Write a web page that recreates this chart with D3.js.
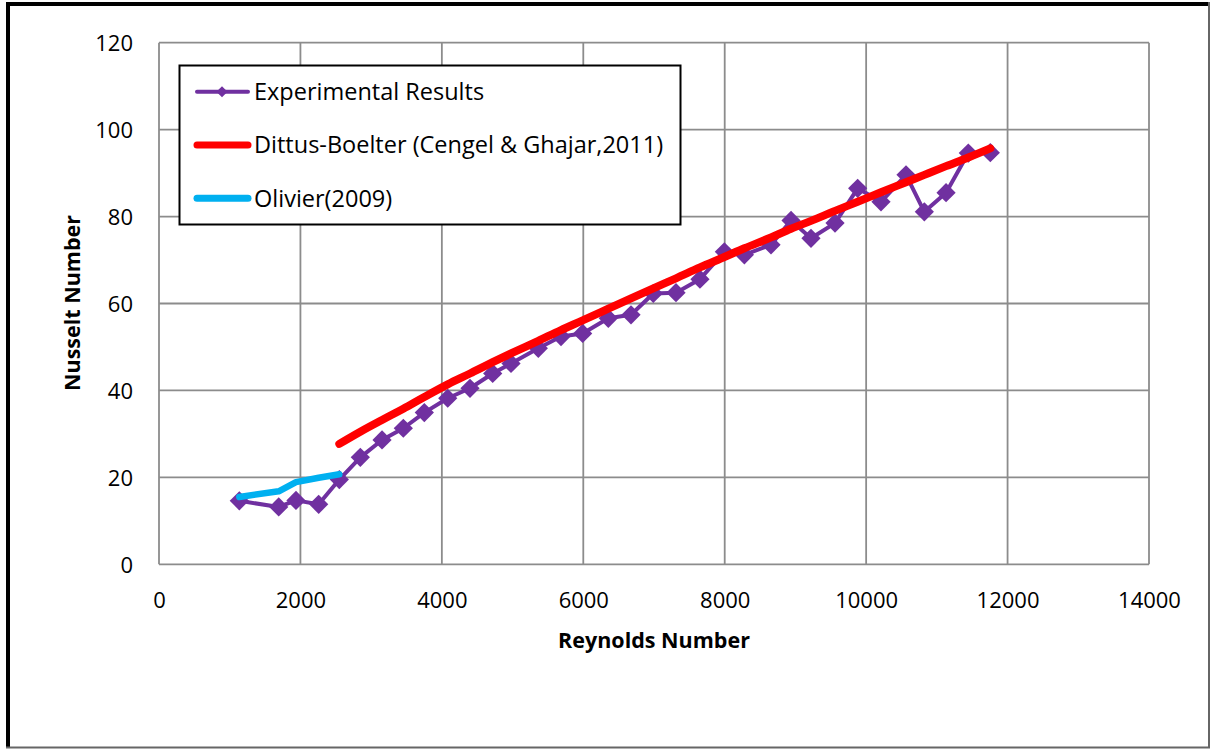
<!DOCTYPE html>
<html>
<head>
<meta charset="utf-8">
<script src="https://cdn.jsdelivr.net/npm/d3@7"></script>
<style>
  html, body { margin: 0; padding: 0; background: #fff; }
  svg { display: block; font-family: "Open Sans", Lato, sans-serif; }
</style>
</head>
<body>
<svg id="chart" width="1211" height="749"></svg>
<script>
// Reynolds numbers of the measured points
const reynolds = [1136, 1693, 1937, 2258, 2550, 2847, 3154, 3455, 3752, 4083,
                  4398, 4719, 4978, 5364, 5685, 5991, 6354, 6675, 6990, 7311,
                  7650, 7995, 8278, 8655, 8938, 9220, 9560, 9880, 10210, 10564,
                  10823, 11130, 11445, 11756];
// Measured Nusselt numbers
const nuExperimental = [14.6, 13.2, 14.7, 13.8, 19.5, 24.6, 28.6, 31.3, 34.9, 38.2,
                        40.5, 43.9, 46.2, 49.7, 52.4, 53.1, 56.6, 57.4, 62.3, 62.5,
                        65.6, 71.9, 71.2, 73.5, 79.1, 75.0, 78.5, 86.5, 83.4, 89.6,
                        81.1, 85.5, 94.6, 94.7];
// Dittus-Boelter correlation, turbulent range only (from the 5th point on)
const reynoldsDittus = reynolds.slice(4);
const nuDittus = [27.7, 30.5, 33.2, 35.8, 38.5, 41.4, 43.9, 46.5, 48.5, 51.4,
                  53.9, 56.1, 58.8, 61.2, 63.5, 65.8, 68.3, 70.7, 72.7, 75.2,
                  77.2, 79.0, 81.3, 83.4, 85.6, 87.9, 89.6, 91.6, 93.6, 95.7];
// Olivier (2009), transitional range (first five points)
const reynoldsOlivier = reynolds.slice(0, 5);
const nuOlivier = [15.5, 16.8, 18.9, 19.9, 20.7];

const xTicks = [0, 2000, 4000, 6000, 8000, 10000, 12000, 14000];
const yTicks = [0, 20, 40, 60, 80, 100, 120];

const seriesNames = ["Experimental Results",
                     "Dittus-Boelter (Cengel & Ghajar,2011)",
                     "Olivier(2009)"];
const seriesColors = ["#7030A0", "#FF0000", "#00B0F0"];

const svg = d3.select("#chart");

// outer frame
svg.append("rect").attr("x", 0).attr("y", 0).attr("width", 1211).attr("height", 749).attr("fill", "#fff");
svg.append("line").attr("x1", 6).attr("x2", 1210).attr("y1", 4).attr("y2", 4)
   .attr("stroke", "#000").attr("stroke-width", 4);
svg.append("line").attr("x1", 8).attr("x2", 8).attr("y1", 2).attr("y2", 748)
   .attr("stroke", "#000").attr("stroke-width", 4);
svg.append("line").attr("x1", 1209).attr("x2", 1209).attr("y1", 2).attr("y2", 748)
   .attr("stroke", "#666").attr("stroke-width", 2);
svg.append("line").attr("x1", 6).attr("x2", 1210).attr("y1", 747.5).attr("y2", 747.5)
   .attr("stroke", "#666").attr("stroke-width", 2);

const x = d3.scaleLinear().domain([0, 14000]).range([159, 1149]);
const y = d3.scaleLinear().domain([0, 120]).range([564.3, 42.7]);

// grid
const grid = svg.append("g").attr("stroke", "#8c8c8c").attr("stroke-width", 1.8);
grid.selectAll(".gx").data(xTicks).join("line")
  .attr("x1", d => x(d)).attr("x2", d => x(d))
  .attr("y1", y(0)).attr("y2", y(120));
grid.selectAll(".gy").data(yTicks).join("line")
  .attr("x1", x(0)).attr("x2", x(14000))
  .attr("y1", d => y(d)).attr("y2", d => y(d));

// axes (labels only)
const xAxis = svg.append("g").attr("transform", `translate(0,${y(0)})`)
  .call(d3.axisBottom(x).tickValues(xTicks).tickSize(0).tickFormat(d3.format("d")));
xAxis.select(".domain").remove();
xAxis.selectAll("text").attr("y", 44).attr("dy", 0)
  .attr("font-size", 22).attr("fill", "#000").attr("font-family", "'Open Sans', sans-serif");

const yAxis = svg.append("g").attr("transform", `translate(${x(0)},0)`)
  .call(d3.axisLeft(y).tickValues(yTicks).tickSize(0).tickFormat(d3.format("d")));
yAxis.select(".domain").remove();
yAxis.selectAll("text").attr("x", -26).attr("dy", "0.35em")
  .attr("font-size", 22).attr("fill", "#000").attr("font-family", "'Open Sans', sans-serif");

// axis titles
svg.append("text").attr("x", 654).attr("y", 648).attr("text-anchor", "middle")
  .attr("font-size", 21.5).attr("font-weight", "bold").text("Reynolds Number");
svg.append("text").attr("transform", "translate(80,303) rotate(-90)")
  .attr("text-anchor", "middle").attr("font-size", 21.5).attr("font-weight", "bold")
  .text("Nusselt Number");

const line = d3.line().x(d => x(d[0])).y(d => y(d[1]));
const diamond = size => d3.symbol().type(d3.symbolSquare).size(size);

// Experimental results: line with diamond markers
const expData = d3.zip(reynolds, nuExperimental);
svg.append("path").datum(expData).attr("d", line)
  .attr("fill", "none").attr("stroke", seriesColors[0]).attr("stroke-width", 4)
  .attr("stroke-linejoin", "round");
svg.append("g").selectAll("path").data(expData).join("path")
  .attr("d", diamond(185))
  .attr("transform", d => `translate(${x(d[0])},${y(d[1])}) rotate(45)`)
  .attr("fill", seriesColors[0]);

// Dittus-Boelter correlation
svg.append("path").datum(d3.zip(reynoldsDittus, nuDittus)).attr("d", line.curve(d3.curveMonotoneX))
  .attr("fill", "none").attr("stroke", seriesColors[1]).attr("stroke-width", 8)
  .attr("stroke-linecap", "round").attr("stroke-linejoin", "round");

// Olivier (2009)
svg.append("path").datum(d3.zip(reynoldsOlivier, nuOlivier)).attr("d", line.curve(d3.curveLinear))
  .attr("fill", "none").attr("stroke", seriesColors[2]).attr("stroke-width", 6.5)
  .attr("stroke-linecap", "round").attr("stroke-linejoin", "round");

// legend
const legend = svg.append("g");
legend.append("rect").attr("x", 179.5).attr("y", 65.5).attr("width", 501).attr("height", 159)
  .attr("fill", "#fff").attr("stroke", "#000").attr("stroke-width", 2);
const rowsY = [91.7, 145, 198.3];
const widths = [4, 7, 7];
seriesNames.forEach((name, i) => {
  const g = legend.append("g");
  g.append("line").attr("x1", 197).attr("x2", 248).attr("y1", rowsY[i]).attr("y2", rowsY[i])
    .attr("stroke", seriesColors[i]).attr("stroke-width", widths[i]).attr("stroke-linecap", "round");
  if (i === 0) {
    g.append("path").attr("d", diamond(62))
      .attr("transform", `translate(222,${rowsY[i]}) rotate(45)`)
      .attr("fill", seriesColors[i]);
  }
  g.append("text").attr("x", 254).attr("y", rowsY[i]).attr("dy", "0.35em")
    .attr("font-size", 23.5).attr("fill", "#000").text(name);
});
</script>
</body>
</html>
